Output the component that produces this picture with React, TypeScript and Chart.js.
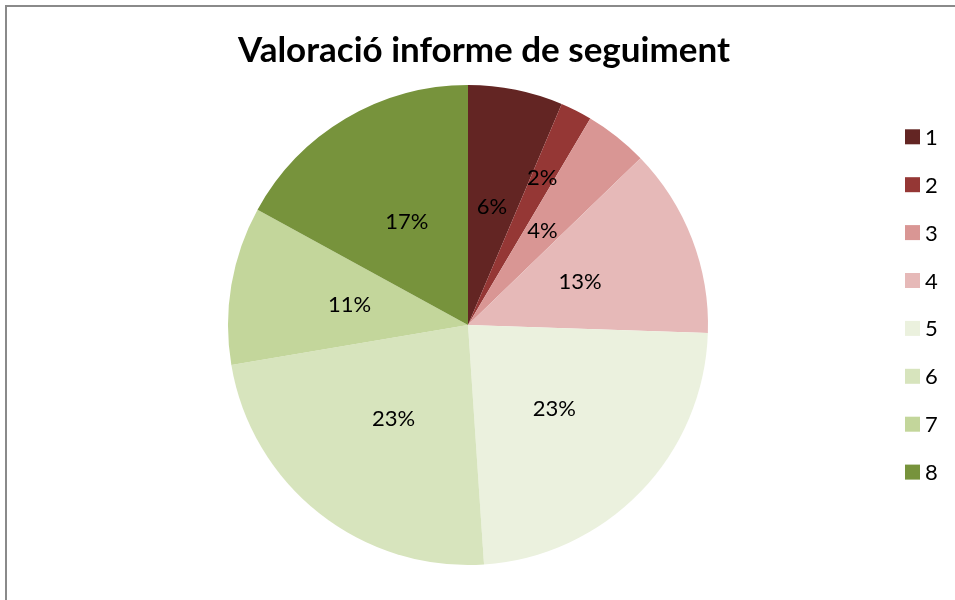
import React, { useEffect, useRef } from "react";
import { Chart, registerables } from "chart.js";

Chart.register(...registerables);

const titleText = "Valoració informe de seguiment";
const categories = ["1", "2", "3", "4", "5", "6", "7", "8"];
const counts = [3, 1, 2, 6, 11, 11, 5, 8];
const colors = ["#632523", "#953735", "#D99694", "#E6B9B8", "#EBF1DE", "#D7E4BD", "#C3D69B", "#77933C"];
const labelRadiusFactor = [0.5, 0.686, 0.5, 0.5, 0.5, 0.5, 0.5, 0.5];

const FONT = "Lato, 'Open Sans', sans-serif";

const decorPlugin = {
  id: "decor",
  beforeDraw(chart: any) {
    const ctx = chart.ctx;
    ctx.save();
    ctx.fillStyle = "#ffffff";
    ctx.fillRect(0, 0, chart.width, chart.height);
    ctx.fillStyle = "#8a8a8a";
    ctx.fillRect(5, 5, 2, chart.height - 5);
    ctx.fillRect(5, 5, chart.width - 5, 2);
    // title
    ctx.fillStyle = "#000000";
    ctx.font = `bold 35px ${FONT}`;
    ctx.textAlign = "center";
    ctx.textBaseline = "alphabetic";
    ctx.fillText(titleText, 484, 62);
    ctx.restore();
  },
  afterDatasetsDraw(chart: any) {
    const ctx = chart.ctx;
    const meta = chart.getDatasetMeta(0);
    const data = chart.data.datasets[0].data as number[];
    const total = data.reduce((a, b) => a + b, 0);
    ctx.save();
    ctx.fillStyle = "#000000";
    ctx.font = `22px ${FONT}`;
    ctx.textAlign = "center";
    ctx.textBaseline = "middle";
    meta.data.forEach((arc: any, i: number) => {
      const p = arc.getProps(["x", "y", "startAngle", "endAngle", "outerRadius"], true);
      const mid = (p.startAngle + p.endAngle) / 2;
      const r = p.outerRadius * labelRadiusFactor[i];
      const x = p.x + Math.cos(mid) * r;
      const y = p.y + Math.sin(mid) * r;
      ctx.fillText(Math.round((data[i] / total) * 100) + "%", x, y);
    });
    // legend
    const labels = chart.data.labels as string[];
    const bg = chart.data.datasets[0].backgroundColor as string[];
    labels.forEach((lab, i) => {
      const cy = 136.8 + i * 47.9;
      ctx.fillStyle = bg[i];
      ctx.fillRect(905, cy - 7.5, 15, 15);
      ctx.fillStyle = "#000000";
      ctx.textAlign = "left";
      ctx.font = `22px ${FONT}`;
      ctx.fillText(lab, 925, cy + 1);
    });
    ctx.restore();
  },
};

export default function App() {
  const ref = useRef<HTMLCanvasElement>(null);
  useEffect(() => {
    if (!ref.current) return;
    const chart = new Chart(ref.current, {
      type: "pie",
      data: {
        labels: categories,
        datasets: [
          {
            data: counts,
            backgroundColor: colors,
            borderWidth: 0,
          },
        ],
      },
      options: {
        responsive: false,
        animation: false,
        layout: { padding: { left: 228, right: 247, top: 85, bottom: 35 } },
        plugins: {
          legend: { display: false },
          title: { display: false },
          tooltip: { enabled: false },
        },
      },
      plugins: [decorPlugin],
    });
    return () => chart.destroy();
  }, []);
  return (
    <div style={{ position: "absolute", left: 0, top: 0, width: 955, height: 600 }}>
      <canvas ref={ref} width={955} height={600} />
    </div>
  );
}
